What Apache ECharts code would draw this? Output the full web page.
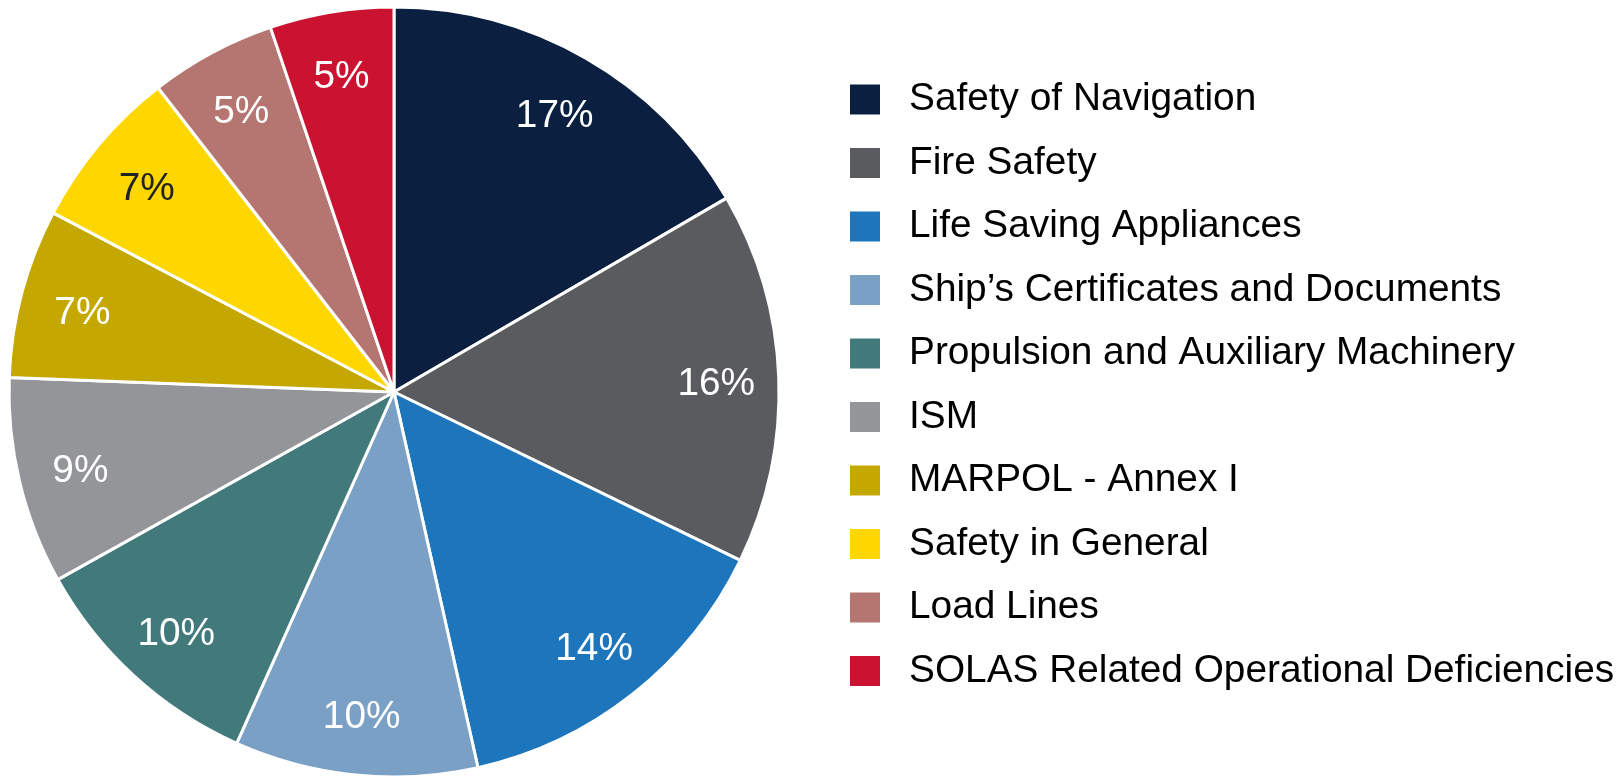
<!DOCTYPE html>
<html>
<head>
<meta charset="utf-8">
<script src="https://cdn.jsdelivr.net/npm/echarts@6/dist/echarts.min.js"></script>
<style>
  html, body { margin: 0; padding: 0; background: #fff; }
  #chart { width: 1623px; height: 777px; }
</style>
</head>
<body>
<div id="chart"></div>
<script>
// 数据
const categories = [
  'Safety of Navigation',
  'Fire Safety',
  'Life Saving Appliances',
  'Ship\u2019s Certificates and Documents',
  'Propulsion and Auxiliary Machinery',
  'ISM',
  'MARPOL - Annex I',
  'Safety in General',
  'Load Lines',
  'SOLAS Related Operational Deficiencies'
];
const values = [16.6, 15.6, 14.3, 10.2, 10.2, 8.7, 7.1, 6.8, 5.3, 5.2];
const colors = ['#0b2040', '#5a5b5e', '#1d75bc', '#7aa0c6', '#42797a', '#939598', '#c4a800', '#fed700', '#b57671', '#cb1230'];
const labelColors = ['#fff', '#fff', '#fff', '#fff', '#fff', '#fff', '#fff', '#222', '#fff', '#fff'];

const myChart = echarts.init(document.getElementById('chart'));

const pieData = categories.map((name, i) => ({
  name: name,
  value: values[i],
  itemStyle: { color: colors[i] }
}));

// 透明环，只用来把百分比标签放到外圈附近
const labelData = categories.map((name, i) => ({
  name: name,
  value: values[i],
  label: { color: labelColors[i] }
}));

myChart.setOption({
  animation: false,
  legend: {
    orient: 'vertical',
    left: 843,
    top: 75,
    icon: 'rect',
    itemWidth: 32,
    itemHeight: 32,
    itemGap: 24.5,
    selectedMode: false,
    data: categories,
    textStyle: {
      fontFamily: 'Liberation Sans, Arial, sans-serif',
      fontSize: 38.8,
      color: '#000',
      lineHeight: 32,
      padding: [0, 0, 0, 23]
    }
  },
  series: [
    {
      type: 'pie',
      center: [394, 392],
      radius: [0, 385],
      startAngle: 90,
      clockwise: true,
      silent: true,
      label: { show: false },
      labelLine: { show: false },
      itemStyle: { borderColor: '#fff', borderWidth: 3 },
      data: pieData
    },
    {
      type: 'pie',
      center: [394, 392],
      radius: [254, 385],
      startAngle: 90,
      clockwise: true,
      silent: true,
      itemStyle: { color: 'rgba(0,0,0,0)', borderWidth: 0 },
      label: {
        show: true,
        position: 'inside',
        offset: [0, 4],
        fontFamily: 'Liberation Sans, Arial, sans-serif',
        fontSize: 38.8,
        formatter: (p) => Math.round(p.value) + '%'
      },
      labelLine: { show: false },
      data: labelData
    }
  ]
});
</script>
</body>
</html>
